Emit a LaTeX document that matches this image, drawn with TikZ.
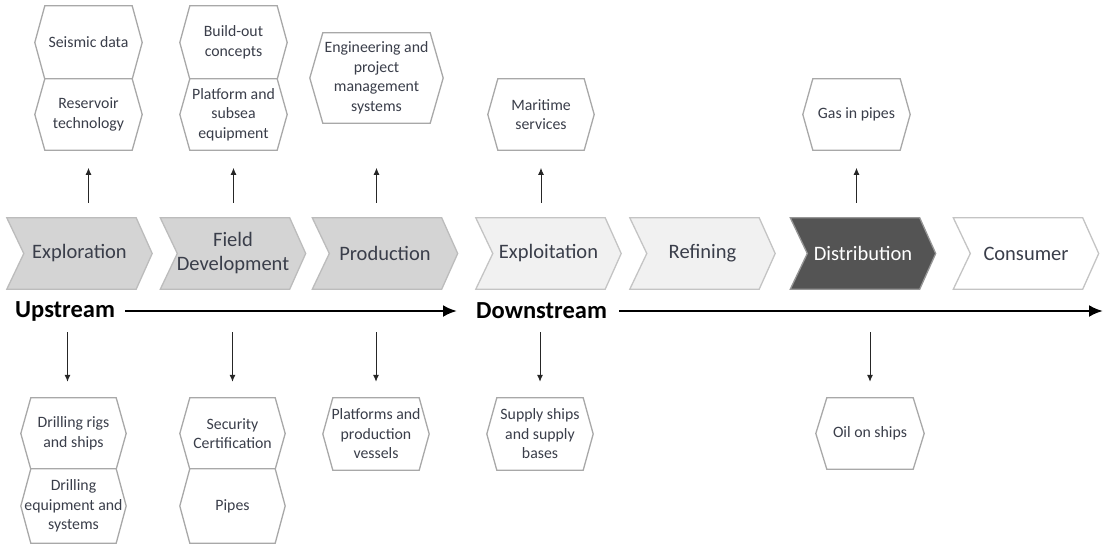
\documentclass[tikz,border=0pt]{standalone}
\usepackage{fontspec}
\setmainfont{Carlito}
\usetikzlibrary{arrows.meta,calc}

\definecolor{txt}{RGB}{58,62,74}
\definecolor{hexline}{RGB}{168,168,168}
\definecolor{upfill}{RGB}{212,212,212}
\definecolor{upline}{RGB}{188,188,188}
\definecolor{lightfill}{RGB}{241,241,241}
\definecolor{lightline}{RGB}{196,196,196}
\definecolor{darkfill}{RGB}{84,84,84}
\definecolor{darkline}{RGB}{150,150,150}

\pgfdeclarelayer{bg}
\pgfsetlayers{bg,main}

\tikzset{
  hexbox/.style={inner sep=0pt, minimum width=107pt, minimum height=71pt,
    align=center, text=txt, font=\fontsize{15.8}{19.5}\selectfont},
  stage/.style={inner sep=0pt, minimum width=145pt, minimum height=71pt,
    align=center, text=txt, font=\fontsize{20.5}{24}\selectfont},
  hexedge/.style={draw=hexline, line width=1.3pt, line join=miter},
  smallarrow/.style={draw=black!85, line width=1pt, -{Latex[length=7pt,width=6pt]}},
  bigarrow/.style={draw=black, line width=2.6pt, -{Latex[length=14pt,width=12pt]}},
  streamlabel/.style={inner sep=0pt, font=\fontsize{24.5}{28}\bfseries\selectfont, text=black}
}

% hexagon outline around a named node, #2 = horizontal inset of the top/bottom edges
\newcommand\hexframe[2]{%
  \begin{pgfonlayer}{bg}
  \path[hexedge, fill=white] ([xshift=#2]#1.north west) -- ([xshift=-#2]#1.north east) -- (#1.east)
    -- ([xshift=-#2]#1.south east) -- ([xshift=#2]#1.south west) -- (#1.west) -- cycle;
  \end{pgfonlayer}}

% chevron outline around a named node
\newcommand\chevronframe[2]{%
  \begin{pgfonlayer}{bg}
  \path[#2, line width=1.3pt, line join=miter] (#1.north west) -- ([xshift=-16pt]#1.north east) -- (#1.east)
    -- ([xshift=-16pt]#1.south east) -- (#1.south west) -- ([xshift=17pt]#1.west) -- cycle;
  \end{pgfonlayer}}

\begin{document}
\begin{tikzpicture}[x=1pt,y=-1pt]
\useasboundingbox (0,0) rectangle (1103,550);

% value chain stages
\node[stage] (expl)    at (79.5,253.5) {Exploration};
\node[stage] (field)   at (233,253.5)  {Field\\Development};
\node[stage] (prod)    at (385,253.5)  {Production};
\node[stage] (exploit) at (548.5,253.5){Exploitation};
\node[stage] (refin)   at (702.5,253.5){Refining};
\node[stage, text=white] (distr) at (863,253.5) {Distribution};
\node[stage] (cons)    at (1026,253.5) {Consumer};

\chevronframe{expl}{draw=upline, fill=upfill}
\chevronframe{field}{draw=upline, fill=upfill}
\chevronframe{prod}{draw=upline, fill=upfill}
\chevronframe{exploit}{draw=lightline, fill=lightfill}
\chevronframe{refin}{draw=lightline, fill=lightfill}
\chevronframe{distr}{draw=darkline, fill=darkfill}
\chevronframe{cons}{draw=lightline, fill=white}

% supplier segments above the chain
\node[hexbox, minimum height=73pt] (seis) at (88.5,42.5)  {Seismic data};
\node[hexbox] (resv)  at (88.5,114.5) {Reservoir\\technology};
\node[hexbox, minimum height=73pt] (build) at (233.5,42.5) {Build-out\\concepts};
\node[hexbox] (plat)  at (233.5,114.5) {Platform and\\subsea\\equipment};
\node[hexbox, minimum width=133pt, minimum height=90pt] (eng) at (376.5,78) {Engineering and\\project\\management\\systems};
\node[hexbox, minimum width=106pt] (mari) at (541,114.5) {Maritime\\services};
\node[hexbox] (gas)   at (856.5,114.5) {Gas in pipes};

\hexframe{seis}{10pt}
\hexframe{resv}{10pt}
\hexframe{build}{10pt}
\hexframe{plat}{10pt}
\hexframe{eng}{13pt}
\hexframe{mari}{10pt}
\hexframe{gas}{10pt}

% supplier segments below the chain
\node[hexbox, minimum width=105pt] (drill) at (73.5,433.5) {Drilling rigs\\and ships};
\node[hexbox, minimum width=105pt, minimum height=74pt] (dreq) at (73.5,506) {Drilling\\equipment and\\systems};
\node[hexbox, minimum width=105pt] (secu) at (232.5,433.5) {Security\\Certification};
\node[hexbox, minimum width=105pt, minimum height=74pt] (pipes) at (232.5,506) {Pipes};
\node[hexbox, minimum width=106pt, minimum height=72pt] (platf) at (376,434) {Platforms and\\production\\vessels};
\node[hexbox, minimum width=106pt, minimum height=72pt] (supp) at (540,434) {Supply ships\\and supply\\bases};
\node[hexbox, minimum width=108pt] (oil) at (870,433.5) {Oil on ships};

\hexframe{drill}{10pt}
\hexframe{dreq}{10pt}
\hexframe{secu}{10pt}
\hexframe{pipes}{10pt}
\hexframe{platf}{10pt}
\hexframe{supp}{10pt}
\hexframe{oil}{11pt}

% links upward
\draw[smallarrow] ($(resv.south |- expl.north)+(0,-15)$)  -- ($(resv.south |- expl.north)+(0,-50)$);
\draw[smallarrow] ($(plat.south |- field.north)+(0,-15)$) -- ($(plat.south |- field.north)+(0,-50)$);
\draw[smallarrow] ($(eng.south |- prod.north)+(0,-15)$)   -- ($(eng.south |- prod.north)+(0,-50)$);
\draw[smallarrow] ($(mari.south |- exploit.north)+(0,-15)$) -- ($(mari.south |- exploit.north)+(0,-50)$);
\draw[smallarrow] ($(gas.south |- distr.north)+(0,-15)$)  -- ($(gas.south |- distr.north)+(0,-50)$);

% links downward
\draw[smallarrow] ($(drill.north |- expl.south)+(-6,43)$) -- ($(drill.north)+(-6,-16)$);
\draw[smallarrow] ($(secu.north |- field.south)+(0,43)$)  -- ($(secu.north)+(0,-16)$);
\draw[smallarrow] ($(platf.north |- prod.south)+(0,43)$)  -- ($(platf.north)+(0,-16)$);
\draw[smallarrow] ($(supp.north |- exploit.south)+(0,43)$) -- ($(supp.north)+(0,-16)$);
\draw[smallarrow] ($(oil.north |- distr.south)+(0,43)$)   -- ($(oil.north)+(0,-16)$);

% upstream / downstream axis
\node[streamlabel, anchor=west] (upst) at (15,311) {Upstream};
\coordinate (upend) at (457,311);
\draw[bigarrow] ($(upst.east)+(10,0)$) -- (upend);

\node[streamlabel, anchor=west] (downst) at (476,311) {Downstream};
\coordinate (downend) at (1103,311);
\draw[bigarrow] ($(downst.east)+(12,0)$) -- (downend);
\end{tikzpicture}
\end{document}
